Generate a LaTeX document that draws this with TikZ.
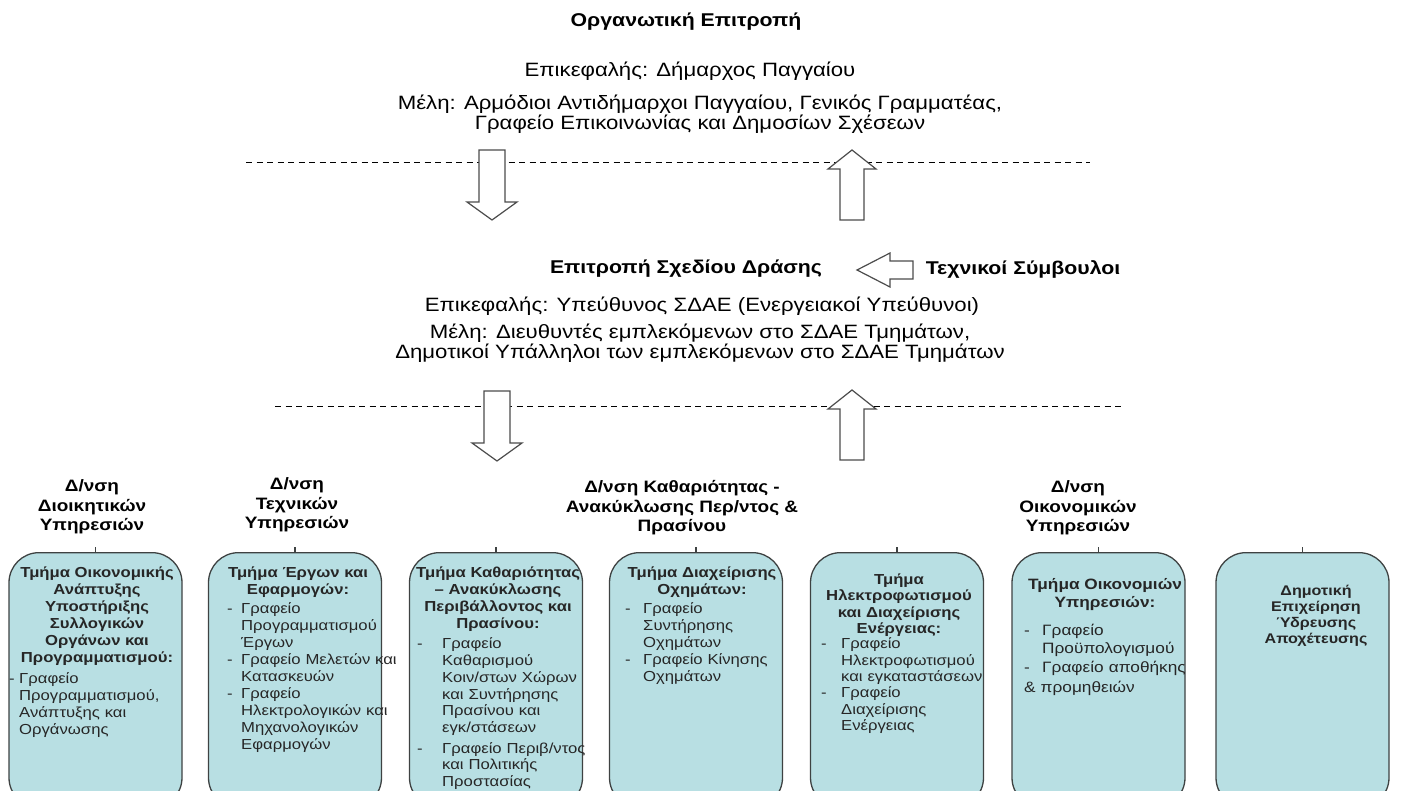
\documentclass[tikz,border=0pt]{standalone}
\usepackage{fontspec}
\setmainfont{Liberation Sans}[FakeStretch=1.15]
\usetikzlibrary{positioning}

\definecolor{boxfill}{RGB}{184,223,227}
\definecolor{boxline}{RGB}{62,66,66}

\newcommand{\office}[2][14pt]{\par\hangindent=#1\hangafter=1\noindent\makebox[#1][l]{-}#2\par}

\tikzset{
  head/.style={font=\bfseries\fontsize{18.5}{19}\selectfont, align=center},
  plain/.style={font=\fontsize{19.3}{18.5}\selectfont, align=center},
  divhead/.style={font=\bfseries\fontsize{16.5}{19.5}\selectfont, align=center},
  dept/.style={draw=boxline, line width=1.3pt, fill=boxfill, rounded corners=30pt,
    minimum width=173pt, minimum height=255pt, anchor=north},
  depthead/.style={font=\bfseries\fontsize{14.5}{17}\selectfont, align=center,
    anchor=north, inner sep=0pt, text=black!85},
  deptlist/.style={font=\fontsize{14.5}{17}\selectfont, align=left, anchor=north west,
    text width=200pt, inner sep=0pt, text=black!85},
  hollow/.style={draw=black!70, line width=1.2pt, fill=white, line join=miter},
  dashline/.style={dash pattern=on 6pt off 4.5pt, line width=1pt},
  downarrow/.pic={\draw[hollow] (-13,0) -- (13,0) -- (13,52) -- (25,52) -- (0,70)
    -- (-25,52) -- (-13,52) -- cycle;},
  uparrow/.pic={\draw[hollow] (0,0) -- (24,19) -- (12,19) -- (12,70) -- (-12,70)
    -- (-12,19) -- (-24,19) -- cycle;},
  leftarrow/.pic={\draw[hollow] (0,0) -- (33,-17) -- (33,-9) -- (56,-9) -- (56,9)
    -- (33,9) -- (33,17) -- cycle;}
}

\begin{document}
\begin{tikzpicture}[x=1pt, y=-1pt]
        \useasboundingbox (0,0) rectangle (1403,791);

        \node[head] (org) at (686,22) {Οργανωτική Επιτροπή};
        \node[plain] (orglead) at (690,71) {Επικεφαλής: Δήμαρχος Παγγαίου};
        \node[plain] (orgmembers) at (700,114) {Μέλη: Αρμόδιοι Αντιδήμαρχοι Παγγαίου, Γενικός Γραμματέας,\\ Γραφείο Επικοινωνίας και Δημοσίων Σχέσεων};

        \draw[dashline] (246,163) -- (1090,163);
        \pic (orgdown) at (492,150) {downarrow};
        \pic (orgup) at (852,150) {uparrow};

        \node[head] (plan) at (686,269) {Επιτροπή Σχεδίου Δράσης};
        \node[head] (advisors) at (1023,269) {Τεχνικοί Σύμβουλοι};
        \pic (advin) at (857,270) {leftarrow};
        \node[plain] (planlead) at (702,306) {Επικεφαλής: Υπεύθυνος ΣΔΑΕ (Ενεργειακοί Υπεύθυνοι)};
        \node[plain] (planmembers) at (700,343) {Μέλη: Διευθυντές εμπλεκόμενων στο ΣΔΑΕ Τμημάτων,\\ Δημοτικοί Υπάλληλοι των εμπλεκόμενων στο ΣΔΑΕ Τμημάτων};

        \draw[dashline] (275,407) -- (1125,407);
        \pic (plandown) at (497,391) {downarrow};
        \pic (planup) at (852,390) {uparrow};

        \node[divhead] (dadmin) at (92,507) {Δ/νση\\ Διοικητικών\\ Υπηρεσιών};
        \node[divhead] (dtech) at (297,505) {Δ/νση\\ Τεχνικών\\ Υπηρεσιών};
        \node[divhead] (dclean) at (682,508) {Δ/νση Καθαριότητας -\\ Ανακύκλωσης Περ/ντος \&\\ Πρασίνου};
        \node[divhead] (dfin) at (1078,508) {Δ/νση\\ Οικονομικών\\ Υπηρεσιών};

        \foreach \n/\x in {1/95.5, 2/295, 3/496, 4/696, 5/897, 6/1098.5, 7/1302.5}{
            \node[dept] (box\n) at (\x,552) {};
            \draw[boxline, line width=1.5pt] (box\n.north) -- ++(0,-5);
        }

        \node[depthead] (h1) at (97,567) {Τμήμα Οικονομικής\\ Ανάπτυξης\\ Υποστήριξης\\ Συλλογικών\\ Οργάνων και\\ Προγραμματισμού:};
        \node[deptlist] (o1) at (9,666) {\office[10pt]{Γραφείο\newline Προγραμματισμού,\newline Ανάπτυξης και\newline Οργάνωσης}};

        \node[depthead] (h2) at (298,567) {Τμήμα Έργων και\\ Εφαρμογών:};
        \node[deptlist] (o2) at (227,596) {\office{Γραφείο\newline Προγραμματισμού\newline Έργων}
            \office{Γραφείο Μελετών και\newline Κατασκευών}
            \office{Γραφείο\newline Ηλεκτρολογικών και\newline Μηχανολογικών\newline Εφαρμογών}};

        \node[depthead] (h3) at (498,567) {Τμήμα Καθαριότητας\\ -- Ανακύκλωσης\\ Περιβάλλοντος και\\ Πρασίνου:};
        \node[deptlist, font=\fontsize{14.5}{16.7}\selectfont] (o3) at (417,632) {\office[25pt]{Γραφείο\newline Καθαρισμού\newline Κοιν/στων Χώρων\newline και Συντήρησης\newline Πρασίνου και\newline εγκ/στάσεων}
            \vspace{4pt}\office[25pt]{Γραφείο Περιβ/ντος\newline και Πολιτικής\newline Προστασίας}};

        \node[depthead] (h4) at (702,567) {Τμήμα Διαχείρισης\\ Οχημάτων:};
        \node[deptlist] (o4) at (625,596) {\office[18pt]{Γραφείο\newline Συντήρησης\newline Οχημάτων}
            \office[18pt]{Γραφείο Κίνησης\newline Οχημάτων}};

        \node[depthead, font=\bfseries\fontsize{14.5}{16.1}\selectfont] (h5) at (899,574) {Τμήμα\\ Ηλεκτροφωτισμού\\ και Διαχείρισης\\ Ενέργειας:};
        \node[deptlist, font=\fontsize{14.5}{16.4}\selectfont] (o5) at (821,632) {\office[20pt]{Γραφείο\newline Ηλεκτροφωτισμού\newline και εγκαταστάσεων}
            \office[20pt]{Γραφείο\newline Διαχείρισης\newline Ενέργειας}};

        \node[depthead, font=\bfseries\fontsize{15}{18.5}\selectfont] (h6) at (1105,578) {Τμήμα Οικονομιών\\ Υπηρεσιών:};
        \node[deptlist, font=\fontsize{15}{17.5}\selectfont] (o6) at (1024,618) {\office[18pt]{Γραφείο\newline Προϋπολογισμού}
            \vspace{2pt}\office[18pt]{Γραφείο αποθήκης}
            \vspace{2pt}\noindent\& προμηθειών\par};

        \node[depthead, font=\bfseries\fontsize{14}{16}\selectfont] (h7) at (1316,585) {Δημοτική\\ Επιχείρηση\\ Ύδρευσης\\ Αποχέτευσης};
    \end{tikzpicture}
\end{document}
